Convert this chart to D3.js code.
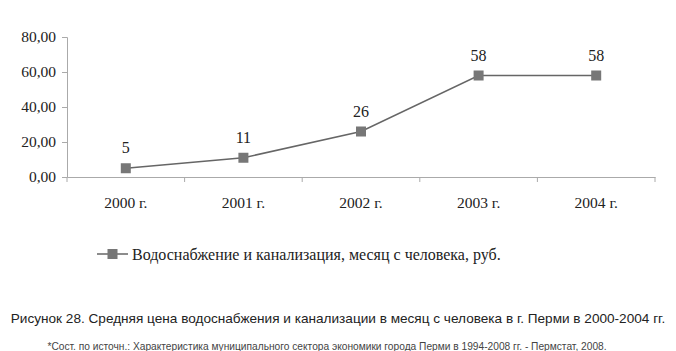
<!DOCTYPE html>
<html>
<head>
<meta charset="utf-8">
<script src="https://cdn.jsdelivr.net/npm/d3@7"></script>
<style>
body { margin: 0; background: #fff; }
svg text { fill: #222; }
.serif { font-family: "Liberation Serif", "DejaVu Serif", serif; }
.sans { font-family: "Liberation Sans", Arial, sans-serif; }
</style>
</head>
<body>
<svg class="chart"></svg>
<script>
let years = ['2000 г.', '2001 г.', '2002 г.', '2003 г.', '2004 г.'];
let values = [5, 11, 26, 58, 58];
let yTicks = [0, 20, 40, 60, 80];
let seriesName = 'Водоснабжение и канализация, месяц с человека, руб.';
let caption = 'Рисунок 28. Средняя цена водоснабжения и канализации в месяц с человека в г. Перми в 2000-2004 гг.';
let source = '*Сост. по источн.: Характеристика муниципального сектора экономики города Перми в 1994-2008 гг. - Пермстат, 2008.';

let width = 676, height = 351;
let plotLeft = 67, plotRight = 655, plotTop = 37, plotBottom = 177;

let svg = d3.select('.chart')
	.attr('width', width)
	.attr('height', height);

let x = d3.scaleBand()
	.domain(years)
	.range([plotLeft, plotRight]);

let y = d3.scaleLinear()
	.domain([0, 80])
	.range([plotBottom, plotTop]);

// y axis
let yAxis = svg.append('g')
	.attr('transform', 'translate(' + plotLeft + ',0)')
	.call(d3.axisLeft(y).tickValues(yTicks).tickSize(5).tickPadding(6)
		.tickFormat(d => d3.format('.2f')(d).replace('.', ',')));
yAxis.attr('font-family', null);
yAxis.selectAll('line, path').attr('stroke', '#aaa');
yAxis.selectAll('text').attr('class', 'serif').attr('font-size', 15.5).attr('fill', '#222');

// x axis
let xAxis = svg.append('g')
	.attr('transform', 'translate(0,' + plotBottom + ')')
	.call(d3.axisBottom(x).tickSize(0).tickPadding(20));
xAxis.attr('font-family', null);
xAxis.select('path').attr('stroke', '#aaa');
xAxis.selectAll('text').attr('class', 'serif').attr('font-size', 15.5).attr('fill', '#222');

// tick marks between categories
let edges = years.map(d => x(d)).concat([plotRight]);
svg.append('g').selectAll('line')
	.data(edges)
	.enter().append('line')
		.attr('x1', d => d).attr('x2', d => d)
		.attr('y1', plotBottom).attr('y2', plotBottom + 5)
		.attr('stroke', '#aaa');

let cx = d => x(d) + x.bandwidth() / 2;

let line = d3.line()
	.x((d, i) => cx(years[i]))
	.y(d => y(d));

svg.append('path')
	.datum(values)
	.attr('d', line)
	.attr('fill', 'none')
	.attr('stroke', '#666')
	.attr('stroke-width', 1.5);

svg.append('g').selectAll('rect')
	.data(values)
	.enter().append('rect')
		.attr('x', (d, i) => cx(years[i]) - 5)
		.attr('y', d => y(d) - 5)
		.attr('width', 10)
		.attr('height', 10)
		.attr('fill', '#777');

svg.append('g').selectAll('text')
	.data(values)
	.enter().append('text')
		.attr('class', 'serif')
		.attr('x', (d, i) => cx(years[i]))
		.attr('y', d => y(d) - 15)
		.attr('text-anchor', 'middle')
		.attr('font-size', 16)
		.text(d => d);

// legend
let legend = svg.append('g').attr('transform', 'translate(97,254)');
legend.append('line')
	.attr('x1', 0).attr('x2', 31).attr('y1', 0).attr('y2', 0)
	.attr('stroke', '#666').attr('stroke-width', 1.5);
legend.append('rect')
	.attr('x', 10.5).attr('y', -5).attr('width', 10).attr('height', 10)
	.attr('fill', '#777');
legend.append('text')
	.attr('class', 'serif')
	.attr('x', 35).attr('y', 5.5)
	.attr('font-size', 16)
	.text(seriesName);

svg.append('text')
	.attr('class', 'sans')
	.attr('x', 338).attr('y', 323)
	.attr('text-anchor', 'middle')
	.attr('font-size', 13.6)
	.text(caption);

svg.append('text')
	.attr('class', 'sans')
	.attr('x', 327).attr('y', 350)
	.attr('text-anchor', 'middle')
	.attr('font-size', 10.2)
	.style('fill', '#444')
	.text(source);
</script>
</body>
</html>
